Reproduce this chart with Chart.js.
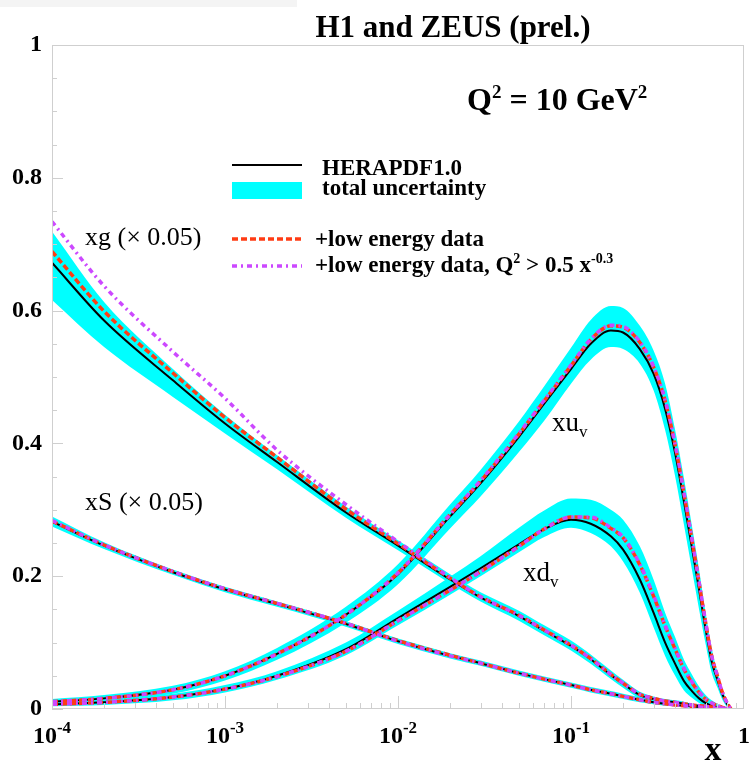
<!DOCTYPE html>
<html>
<head>
<meta charset="utf-8">
<script src="https://cdn.jsdelivr.net/npm/chart.js@4.4.1/dist/chart.umd.min.js"></script>
<style>
  body { margin: 0; background: #fff; }
  #strip { position: absolute; left: 0; top: 0; width: 297px; height: 7px; background: #f4f4f4; }
  canvas { display: block; }
</style>
</head>
<body>
<div id="strip"></div>
<canvas id="pdfChart" width="751" height="762"></canvas>
<script>
// x grid shared by all curves
const X_VALUES = [1e-4, 2e-4, 5e-4, 1e-3, 2e-3, 5e-3, 1e-2, 2e-2, 3e-2, 5e-2, 7e-2, 0.1, 0.13, 0.17, 0.2,
                  0.25, 0.3, 0.35, 0.4, 0.45, 0.5, 0.55, 0.6, 0.65, 0.7, 0.75, 0.8, 0.84];

// xg (x 0.05)
const XG      = [0.672,0.585,0.495,0.430,0.372,0.296,0.246,0.195,0.168,0.140,0.118,0.095,0.075,0.051,0.038,0.021,0.015,0.012,0.010,0.008,0.006,0.005,0.004,0.003,0.002,0.0015,0.001,0];
const XG_LO   = [0.616,0.545,0.470,0.415,0.361,0.288,0.239,0.189,0.162,0.133,0.111,0.088,0.068,0.045,0.032,0.016,0.011,0.009,0.007,0.005,0.004,0.003,0.002,0.001,0.001,0.0005,0,0];
const XG_HI   = [0.719,0.613,0.512,0.443,0.382,0.305,0.254,0.203,0.176,0.148,0.126,0.103,0.082,0.058,0.044,0.026,0.019,0.015,0.013,0.011,0.008,0.007,0.006,0.005,0.003,0.0025,0.002,0.001];
const XG_LOWE = [0.689,0.599,0.506,0.439,0.379,0.301,0.249,0.197,0.169,0.141,0.119,0.096,0.076,0.052,0.039,0.022,0.016,0.012,0.010,0.008,0.006,0.005,0.004,0.003,0.002,0.0015,0.001,0];
const XG_CUT  = [0.734,0.637,0.538,0.468,0.390,0.308,0.252,0.198,0.169,0.141,0.119,0.096,0.076,0.052,0.039,0.022,0.016,0.012,0.010,0.008,0.006,0.005,0.004,0.003,0.002,0.0015,0.001,0];

// xS (x 0.05)
const XS      = [0.282,0.246,0.206,0.180,0.158,0.128,0.102,0.080,0.069,0.054,0.045,0.036,0.029,0.023,0.019,0.014,0.010,0.008,0.006,0.005,0.004,0.003,0.002,0.0015,0.001,0.0007,0.0003,0];
const XS_LO   = [0.275,0.241,0.202,0.176,0.154,0.124,0.098,0.076,0.065,0.050,0.041,0.032,0.025,0.019,0.015,0.010,0.007,0.005,0.004,0.003,0.002,0.002,0.001,0.001,0,0,0,0];
const XS_HI   = [0.290,0.251,0.210,0.184,0.162,0.132,0.106,0.084,0.073,0.058,0.049,0.040,0.033,0.027,0.023,0.018,0.014,0.011,0.009,0.007,0.006,0.005,0.004,0.003,0.002,0.0015,0.001,0.0005];
const XS_LOWE = [0.283,0.247,0.207,0.181,0.159,0.129,0.103,0.081,0.069,0.054,0.045,0.036,0.029,0.023,0.019,0.014,0.010,0.008,0.006,0.005,0.004,0.003,0.002,0.0015,0.001,0.0007,0.0003,0];
const XS_CUT  = [0.284,0.247,0.207,0.181,0.159,0.129,0.102,0.080,0.069,0.054,0.045,0.036,0.029,0.023,0.019,0.014,0.010,0.008,0.006,0.005,0.004,0.003,0.002,0.0015,0.001,0.0007,0.0003,0];

// xu_v
const XUV      = [0.011,0.016,0.029,0.050,0.083,0.142,0.203,0.290,0.340,0.410,0.460,0.512,0.550,0.570,0.567,0.542,0.505,0.452,0.385,0.312,0.243,0.180,0.120,0.072,0.045,0.022,0.007,0];
const XUV_LO   = [0.007,0.011,0.023,0.043,0.074,0.130,0.188,0.272,0.320,0.387,0.434,0.490,0.526,0.545,0.542,0.520,0.480,0.420,0.350,0.277,0.210,0.150,0.098,0.055,0.033,0.014,0.003,0];
const XUV_HI   = [0.015,0.021,0.035,0.057,0.092,0.154,0.218,0.308,0.360,0.433,0.486,0.544,0.586,0.607,0.604,0.577,0.540,0.490,0.420,0.347,0.276,0.210,0.145,0.092,0.057,0.030,0.011,0];
const XUV_LOWE = [0.011,0.016,0.029,0.050,0.083,0.142,0.205,0.293,0.343,0.414,0.464,0.517,0.556,0.577,0.575,0.552,0.515,0.464,0.397,0.324,0.255,0.190,0.130,0.080,0.051,0.025,0.009,0];
const XUV_CUT  = [0.011,0.016,0.029,0.050,0.083,0.142,0.205,0.293,0.344,0.415,0.465,0.518,0.557,0.578,0.576,0.553,0.516,0.465,0.398,0.325,0.256,0.191,0.131,0.080,0.051,0.025,0.009,0];

// xd_v
const XDV      = [0.007,0.010,0.018,0.030,0.050,0.090,0.137,0.184,0.212,0.248,0.271,0.285,0.279,0.260,0.240,0.195,0.145,0.100,0.068,0.042,0.027,0.016,0.009,0.005,0.003,0.0015,0.0005,0];
const XDV_LO   = [0.004,0.006,0.013,0.025,0.044,0.081,0.126,0.172,0.200,0.236,0.259,0.273,0.265,0.245,0.222,0.175,0.123,0.080,0.050,0.028,0.017,0.009,0.004,0.002,0.001,0.0005,0,0];
const XDV_HI   = [0.010,0.014,0.023,0.036,0.057,0.100,0.148,0.199,0.230,0.273,0.299,0.317,0.315,0.300,0.285,0.245,0.195,0.145,0.108,0.074,0.052,0.034,0.021,0.013,0.008,0.0045,0.0025,0];
const XDV_LOWE = [0.007,0.010,0.018,0.030,0.049,0.087,0.133,0.179,0.207,0.245,0.271,0.289,0.288,0.272,0.258,0.217,0.170,0.125,0.090,0.060,0.040,0.025,0.015,0.009,0.005,0.0025,0.0005,0];
const XDV_CUT  = [0.007,0.010,0.018,0.030,0.049,0.087,0.133,0.179,0.207,0.245,0.271,0.289,0.289,0.273,0.259,0.218,0.171,0.126,0.091,0.061,0.041,0.026,0.015,0.009,0.005,0.0025,0.0005,0];

// axis ticks
const X_TICKS = [1e-4, 1e-3, 1e-2, 1e-1, 1];
const X_TICK_LABELS = [['10', '-4'], ['10', '-3'], ['10', '-2'], ['10', '-1'], ['1', '']];
const Y_TICKS = [0, 0.2, 0.4, 0.6, 0.8, 1];
const Y_TICK_LABELS = ['0', '0.2', '0.4', '0.6', '0.8', '1'];

const SERIF = '"Liberation Serif", "Times New Roman", serif';
const CYAN = '#00ffff';
const RED = '#ff3c14';
const VIOLET = '#cc48ff';
const RED_DASH = [6, 3];
const VIOLET_DASH = [5, 4, 2, 4];

function pts(ys) {
  return X_VALUES.map((x, i) => ({ x: x, y: ys[i] }));
}

const curves = [
  { c: XG,  lo: XG_LO,  hi: XG_HI,  red: XG_LOWE,  vio: XG_CUT },
  { c: XS,  lo: XS_LO,  hi: XS_HI,  red: XS_LOWE,  vio: XS_CUT },
  { c: XUV, lo: XUV_LO, hi: XUV_HI, red: XUV_LOWE, vio: XUV_CUT },
  { c: XDV, lo: XDV_LO, hi: XDV_HI, red: XDV_LOWE, vio: XDV_CUT }
];

let datasets = [];
const common = { pointRadius: 0, cubicInterpolationMode: 'monotone' };
curves.forEach(cv => {
  datasets.push({ ...common, data: pts(cv.hi), borderWidth: 0, borderColor: CYAN,
                  backgroundColor: CYAN, fill: '+1', order: 40 });
  datasets.push({ ...common, data: pts(cv.lo), borderWidth: 0, borderColor: CYAN, fill: false, order: 40 });
});
curves.forEach(cv => {
  datasets.push({ ...common, data: pts(cv.c), borderColor: '#000', borderWidth: 2, fill: false, order: 30 });
  datasets.push({ ...common, data: pts(cv.red), borderColor: RED, borderWidth: 3.5,
                  borderDash: RED_DASH, fill: false, order: 20 });
  datasets.push({ ...common, data: pts(cv.vio), borderColor: VIOLET, borderWidth: 3.5,
                  borderDash: VIOLET_DASH, fill: false, order: 10 });
});

// draw a run of text pieces: [text, size, bold, dy]
function runs(ctx, parts, x, y, align) {
  let w = 0;
  parts.forEach(p => {
    ctx.font = (p[2] ? 'bold ' : '') + p[1] + 'px ' + SERIF;
    w += ctx.measureText(p[0]).width;
  });
  let cx = align === 'center' ? x - w / 2 : x;
  ctx.textAlign = 'left';
  ctx.textBaseline = 'alphabetic';
  ctx.fillStyle = '#000';
  parts.forEach(p => {
    ctx.font = (p[2] ? 'bold ' : '') + p[1] + 'px ' + SERIF;
    ctx.fillText(p[0], cx, y + (p[3] || 0));
    cx += ctx.measureText(p[0]).width;
  });
}

function sampleLine(ctx, x0, x1, y, color, width, dash) {
  ctx.save();
  ctx.strokeStyle = color;
  ctx.lineWidth = width;
  ctx.setLineDash(dash);
  ctx.beginPath();
  ctx.moveTo(x0, y);
  ctx.lineTo(x1, y);
  ctx.stroke();
  ctx.restore();
}

const decor = {
  id: 'decor',
  afterDraw(chart) {
    const ctx = chart.ctx;
    const a = chart.chartArea;
    const xs = chart.scales.x, ys = chart.scales.y;
    ctx.save();

    // frame
    ctx.strokeStyle = '#cfcfcf';
    ctx.lineWidth = 1;
    ctx.strokeRect(a.left + 0.5, a.top + 0.5, a.right - a.left - 1, a.bottom - a.top - 1);

    // inner tick marks
    ctx.beginPath();
    for (let k = 0; k <= 20; k++) {
      const py = Math.round(ys.getPixelForValue(k * 0.05)) + 0.5;
      const len = k % 4 === 0 ? 11 : 5;
      ctx.moveTo(a.left, py);
      ctx.lineTo(a.left + len, py);
    }
    for (let d = -4; d < 0; d++) {
      for (let m = 1; m <= 9; m++) {
        const px = Math.round(xs.getPixelForValue(m * Math.pow(10, d))) + 0.5;
        const len = m === 1 ? 13 : 6;
        ctx.moveTo(px, a.bottom);
        ctx.lineTo(px, a.bottom - len);
      }
    }
    ctx.stroke();

    // x tick labels 10^n
    X_TICKS.forEach((v, i) => {
      const px = xs.getPixelForValue(v);
      const lab = X_TICK_LABELS[i];
      runs(ctx, [[lab[0], 24, true, 0], [lab[1], 17, true, -10]], px, 743, 'center');
    });
    runs(ctx, [['x', 34, true, 0]], 713, 760, 'center');

    // title and Q2
    runs(ctx, [['H1 and ZEUS (prel.)', 31, true, 0]], 453, 37, 'center');
    runs(ctx, [['Q', 32, true, 0], ['2', 19, true, -12], [' = 10 GeV', 32, true, 0], ['2', 19, true, -12]], 467, 110, 'left');

    // legend
    sampleLine(ctx, 232, 302, 165, '#000', 2, []);
    ctx.fillStyle = CYAN;
    ctx.fillRect(232, 182, 70, 17);
    sampleLine(ctx, 232, 302, 239, RED, 3.5, RED_DASH);
    sampleLine(ctx, 232, 302, 266, VIOLET, 3.5, VIOLET_DASH);
    runs(ctx, [['HERAPDF1.0', 23, true, 0]], 322, 175, 'left');
    runs(ctx, [['total uncertainty', 23, true, 0]], 322, 195, 'left');
    runs(ctx, [['+low energy data', 23, true, 0]], 315, 246, 'left');
    runs(ctx, [['+low energy data, Q', 23, true, 0], ['2', 14, true, -9], [' > 0.5 x', 23, true, 0], ['-0.3', 14, true, -9]], 315, 272, 'left');

    // curve labels
    runs(ctx, [['xg (\u00d7 0.05)', 26, false, 0]], 85, 245, 'left');
    runs(ctx, [['xS (\u00d7 0.05)', 26, false, 0]], 85, 510, 'left');
    runs(ctx, [['xu', 27, false, 0], ['v', 17, false, 6]], 552, 431, 'left');
    runs(ctx, [['xd', 27, false, 0], ['v', 17, false, 6]], 523, 581, 'left');

    ctx.restore();
  }
};

const chart = new Chart(document.getElementById('pdfChart').getContext('2d'), {
  type: 'line',
  data: { datasets: datasets },
  options: {
    responsive: false,
    animation: false,
    events: [],
    layout: { padding: { top: 45, right: 7, left: 0, bottom: 0 } },
    plugins: {
      legend: { display: false },
      tooltip: { enabled: false },
      filler: { propagate: false, drawTime: 'beforeDatasetsDraw' }
    },
    scales: {
      x: {
        type: 'logarithmic',
        min: 1e-4,
        max: 1,
        ticks: { display: false },
        grid: { display: false, drawTicks: false },
        border: { display: false },
        afterFit(s) { s.height = 53; }
      },
      y: {
        min: 0,
        max: 1,
        afterBuildTicks(s) { s.ticks = Y_TICKS.map(v => ({ value: v })); },
        ticks: {
          autoSkip: false,
          padding: 10,
          color: '#000',
          font: { family: SERIF, weight: 'bold', size: 24 },
          callback: (v) => {
            const i = Y_TICKS.findIndex(t => Math.abs(t - v) < 1e-6);
            return i >= 0 ? Y_TICK_LABELS[i] : '';
          }
        },
        grid: { display: false, drawTicks: false },
        border: { display: false },
        afterFit(s) { s.width = 52; }
      }
    }
  },
  plugins: [decor]
});
</script>
</body>
</html>
